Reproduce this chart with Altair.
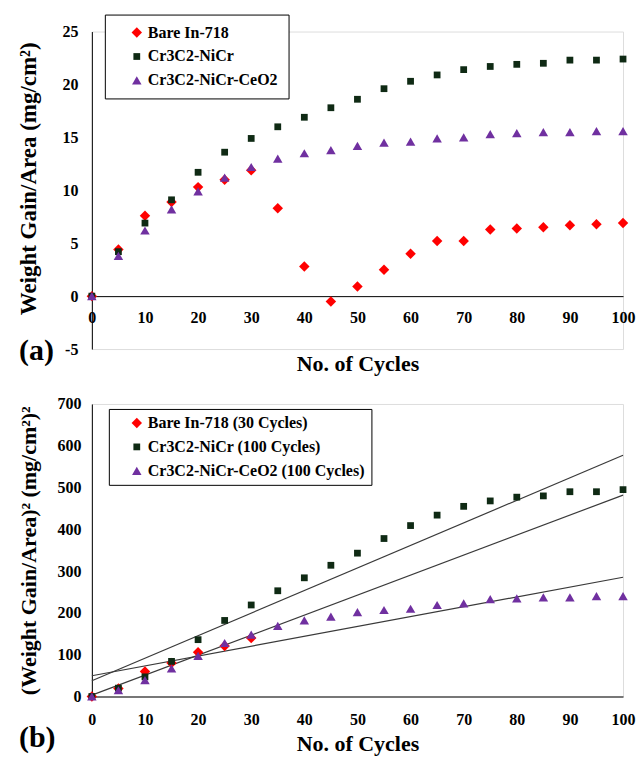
import altair as alt
import pandas as pd

FONT = "Liberation Serif"

# ---------------- data ----------------
cycles = [0, 5, 10, 15, 20, 25, 30, 35, 40, 45, 50, 55, 60, 65, 70, 75, 80, 85, 90, 95, 100]

names_a = ["Bare In-718", "Cr3C2-NiCr", "Cr3C2-NiCr-CeO2"]
bare = [0, 4.4, 7.6, 8.9, 10.3, 11.0, 11.9, 8.3, 2.8, -0.5, 0.9, 2.5, 4.0, 5.2, 5.2, 6.3, 6.4, 6.5, 6.7, 6.8, 6.9]
nicr = [0, 4.2, 6.9, 9.1, 11.7, 13.6, 14.9, 16.0, 16.9, 17.8, 18.6, 19.6, 20.3, 20.9, 21.4, 21.7, 21.9, 22.0, 22.3, 22.3, 22.4]
ceo2 = [0, 3.8, 6.2, 8.2, 9.9, 11.2, 12.2, 13.0, 13.5, 13.8, 14.2, 14.5, 14.6, 14.9, 15.0, 15.3, 15.4, 15.5, 15.5, 15.6, 15.6]

names_b = ["Bare In-718 (30 Cycles)", "Cr3C2-NiCr (100 Cycles)", "Cr3C2-NiCr-CeO2 (100 Cycles)"]
cycles_bare_sq = [0, 5, 10, 15, 20, 25, 30]
bare_sq = [0, 19, 60, 80, 106, 121, 140]
nicr_sq = [0, 20, 47, 84, 136, 182, 219, 253, 284, 314, 343, 378, 409, 434, 455, 468, 477, 480, 490, 490, 495]
ceo2_sq = [0, 15, 39, 67, 97, 128, 148, 169, 182, 191, 202, 207, 210, 219, 223, 233, 235, 237, 237, 240, 240]

colors = ["#FF0000", "#0F2A14", "#7030A0"]
shapes = ["diamond", "square", "triangle-up"]
sizes = [110, 46, 90]

x_ticks = list(range(0, 101, 10))
ya_ticks = [-5, 0, 5, 10, 15, 20, 25]
yb_ticks = list(range(0, 701, 100))

df_a = pd.DataFrame({
    "cycle": cycles * 3,
    "value": bare + nicr + ceo2,
    "series": [names_a[0]] * len(cycles) + [names_a[1]] * len(cycles) + [names_a[2]] * len(cycles),
})
df_b = pd.DataFrame({
    "cycle": cycles_bare_sq + cycles + cycles,
    "value": bare_sq + nicr_sq + ceo2_sq,
    "series": [names_b[0]] * len(cycles_bare_sq) + [names_b[1]] * len(cycles) + [names_b[2]] * len(cycles),
})

PW = 532


def legend(x, y, pad, rowpad):
    return alt.Legend(
        orient="none", legendX=x, legendY=y, title=None,
        strokeColor="black", fillColor="white", padding=pad, rowPadding=rowpad,
        labelFont=FONT, labelFontSize=16, labelFontWeight="bold", labelColor="black",
        labelLimit=400, symbolOffset=14, labelOffset=3,
        symbolStrokeWidth=0,
    )


def tick_axis(**kw):
    base = dict(grid=False, ticks=False, domainColor="black", domainWidth=1,
                labelFont=FONT, labelFontSize=16, labelFontWeight="bold", labelColor="black",
                labelFlush=False, labelExpr="'' + datum.value",
                titleFont=FONT, titleFontSize=22, titleFontWeight="bold", titleColor="black")
    base.update(kw)
    return alt.Axis(**base)


# ---------------- panel (a) ----------------
HA = 318
leg_a = legend(13, -17, 10, 8)
pts_a = alt.Chart(df_a).mark_point(filled=True, opacity=1, strokeWidth=0).encode(
    x=alt.X("cycle:Q", scale=alt.Scale(domain=[0, 100], nice=False, zero=False),
            axis=tick_axis(values=x_ticks, offset=-HA * 5 / 30, title="No. of Cycles",
                           labelPadding=13, titlePadding=28)),
    y=alt.Y("value:Q", scale=alt.Scale(domain=[-5, 25], nice=False),
            axis=tick_axis(values=ya_ticks, title="Weight Gain/Area (mg/cm²)", titleFontSize=23,
                           labelPadding=14, titleX=-63, titleY=147, titleBaseline="middle")),
    color=alt.Color("series:N", scale=alt.Scale(domain=names_a, range=colors), legend=leg_a),
    shape=alt.Shape("series:N", scale=alt.Scale(domain=names_a, range=shapes), legend=leg_a),
    size=alt.Size("series:N", scale=alt.Scale(type="ordinal", domain=names_a, range=sizes), legend=leg_a),
)
tag_a = alt.Chart(pd.DataFrame({"t": ["(a)"]})).mark_text(
    font=FONT, fontSize=30, fontWeight="bold", align="left", baseline="middle", color="black"
).encode(text="t:N", x=alt.value(-73), y=alt.value(320))
panel_a = alt.layer(pts_a, tag_a).properties(width=PW, height=HA)

# ---------------- panel (b) ----------------
HB = 293
leg_b = legend(17, 5, 6, 8)
xb = alt.X("cycle:Q", scale=alt.Scale(domain=[0, 100], nice=False, zero=False),
           axis=tick_axis(values=x_ticks, title="No. of Cycles", labelPadding=15, titlePadding=6))
yb = alt.Y("value:Q", scale=alt.Scale(domain=[0, 700], nice=False),
           axis=tick_axis(values=yb_ticks, title="(Weight Gain/Area)² (mg/cm²)²",
                          labelPadding=11, titleX=-63, titleBaseline="middle"))
fit_b = alt.Chart(df_b).transform_regression(
    "cycle", "value", groupby=["series"], extent=[0, 100]
).mark_line(color="#3a3a3a", strokeWidth=1.2).encode(x=xb, y=yb, detail="series:N")
pts_b = alt.Chart(df_b).mark_point(filled=True, opacity=1, strokeWidth=0).encode(
    x=xb, y=yb,
    color=alt.Color("series:N", scale=alt.Scale(domain=names_b, range=colors), legend=leg_b),
    shape=alt.Shape("series:N", scale=alt.Scale(domain=names_b, range=shapes), legend=leg_b),
    size=alt.Size("series:N", scale=alt.Scale(type="ordinal", domain=names_b, range=sizes), legend=leg_b),
)
tag_b = alt.Chart(pd.DataFrame({"t": ["(b)"]})).mark_text(
    font=FONT, fontSize=30, fontWeight="bold", align="left", baseline="middle", color="black"
).encode(text="t:N", x=alt.value(-73), y=alt.value(335))
panel_b = alt.layer(fit_b, pts_b, tag_b).properties(width=PW, height=HB)

chart = alt.vconcat(panel_a, panel_b, spacing=20).resolve_scale(
    color="independent", shape="independent", size="independent"
).resolve_legend(color="independent", shape="independent", size="independent").properties(
    padding={"left": 17, "top": 13, "right": 4, "bottom": 0}
).configure_view(stroke=None).configure(background="white")

chart.save("out.html", embed_options={"renderer": "svg", "actions": False})
